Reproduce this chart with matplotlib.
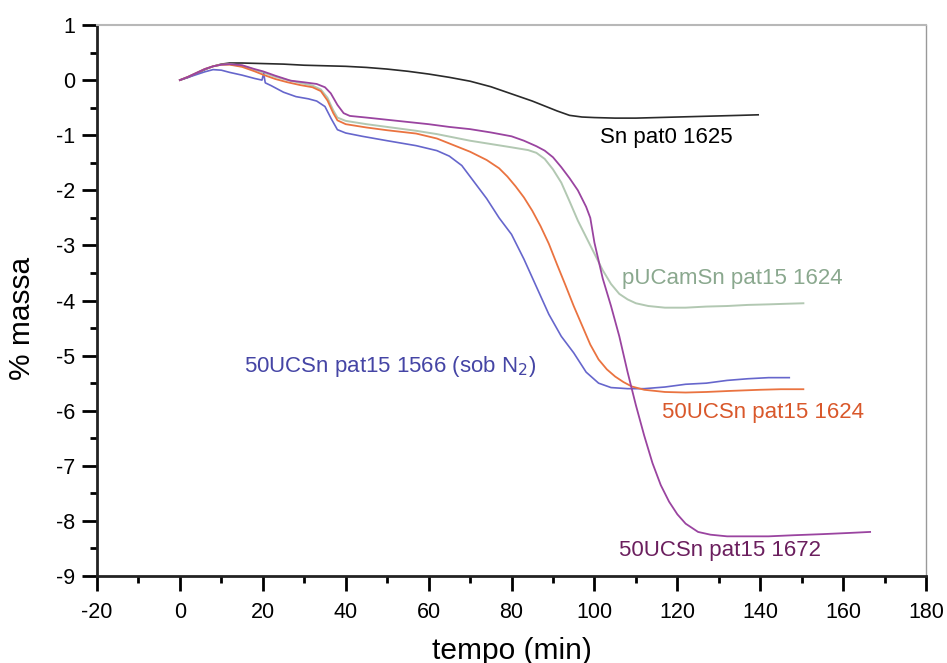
import numpy as np
import matplotlib
matplotlib.use("Agg")
import matplotlib.pyplot as plt
from matplotlib.ticker import MultipleLocator

plt.rcParams['font.family'] = ['Liberation Sans', 'DejaVu Sans']
plt.rcParams['axes.unicode_minus'] = False

# TGA curves: time (min) vs mass change (%)
t_sn = [0, 2, 4, 6, 8, 10, 12, 15, 20, 25, 30, 35, 40, 45, 50, 55, 60, 65, 70, 75,
        80, 85, 88, 91, 94, 97, 100, 105, 110, 115, 120, 125, 130, 135, 139.5]
m_sn = [0, 0.05, 0.12, 0.19, 0.25, 0.29, 0.31, 0.31, 0.30, 0.29, 0.27, 0.26, 0.25, 0.23, 0.2, 0.16,
        0.11, 0.05, -0.02, -0.12, -0.25, -0.38, -0.47, -0.56, -0.64, -0.67, -0.68, -0.69, -0.69,
        -0.68, -0.67, -0.66, -0.65, -0.64, -0.63]

t_n2 = [0, 2, 4, 6, 8, 10, 12, 15, 18, 19.8, 20.2, 20.6, 22, 25, 28, 31, 33, 35, 36.5, 38, 40,
        44, 50, 57, 62, 65, 68, 71, 74, 77, 80, 83, 86, 89, 92, 95, 98, 101, 104, 108, 112, 117,
        122, 127, 132, 137, 142, 147]
m_n2 = [0, 0.05, 0.1, 0.15, 0.19, 0.18, 0.14, 0.09, 0.03, 0.0, 0.12, -0.05, -0.1, -0.22, -0.3,
        -0.34, -0.38, -0.48, -0.7, -0.9, -0.96, -1.02, -1.1, -1.19, -1.28, -1.38, -1.55, -1.85,
        -2.15, -2.5, -2.8, -3.25, -3.75, -4.25, -4.65, -4.95, -5.3, -5.5, -5.58, -5.6, -5.6,
        -5.57, -5.52, -5.5, -5.45, -5.42, -5.4, -5.4]

t_1624 = [0, 2, 4, 6, 8, 10, 12, 15, 18, 20, 23, 26, 29, 32, 34, 35.6, 37, 38, 40, 45, 50, 57,
          62, 65, 70, 74, 77, 79, 81, 83, 85, 87, 89, 91, 93, 95, 97, 99, 101, 103, 105, 107,
          109, 112, 117, 122, 127, 133, 140, 145, 150.4]
m_1624 = [0, 0.06, 0.13, 0.2, 0.25, 0.28, 0.28, 0.24, 0.16, 0.1, 0.02, -0.04, -0.09, -0.13, -0.2,
          -0.37, -0.6, -0.73, -0.8, -0.86, -0.91, -0.97, -1.06, -1.15, -1.3, -1.45, -1.6, -1.75,
          -1.93, -2.13, -2.37, -2.65, -2.97, -3.35, -3.72, -4.1, -4.45, -4.8, -5.07, -5.25, -5.38,
          -5.48, -5.56, -5.62, -5.66, -5.67, -5.66, -5.64, -5.62, -5.61, -5.61]

t_pucam = [0, 2, 4, 6, 8, 10, 12, 15, 18, 20, 23, 26, 29, 32, 34, 35.6, 37, 38, 40, 45, 50, 53,
           57, 62, 66, 70, 75, 80, 84, 86, 88, 90, 92, 94, 96, 98, 100, 102, 104, 106, 108, 110,
           113, 117, 122, 127, 132, 137, 142, 146, 150.4]
m_pucam = [0, 0.06, 0.13, 0.2, 0.25, 0.28, 0.29, 0.26, 0.19, 0.14, 0.06, 0.0, -0.05, -0.1, -0.17,
           -0.32, -0.55, -0.68, -0.74, -0.8, -0.85, -0.88, -0.92, -0.98, -1.04, -1.1, -1.16, -1.22,
           -1.27, -1.32, -1.43, -1.62, -1.86, -2.2, -2.55, -2.85, -3.15, -3.45, -3.7, -3.88, -3.98,
           -4.05, -4.1, -4.13, -4.13, -4.11, -4.1, -4.08, -4.07, -4.06, -4.05]

t_1672 = [0, 2, 4, 6, 8, 10, 12, 15, 18, 20, 23, 26.7, 30, 33, 35, 36.4, 38, 39.5, 41, 45, 50,
          55, 60, 65, 70, 75, 80, 83, 86, 88, 90, 92, 94, 96, 98, 99, 100, 102, 104, 106, 108,
          110, 112, 114, 116, 118, 120, 122, 125, 128, 132, 137, 142, 148, 155, 161, 166.5]
m_1672 = [0, 0.06, 0.13, 0.2, 0.25, 0.28, 0.29, 0.27, 0.2, 0.16, 0.08, -0.01, -0.04, -0.07, -0.13,
          -0.24, -0.45, -0.6, -0.65, -0.68, -0.72, -0.76, -0.8, -0.85, -0.89, -0.95, -1.02, -1.1,
          -1.2, -1.28, -1.4, -1.58, -1.78, -2.0, -2.3, -2.5, -2.95, -3.6, -4.1, -4.65, -5.3,
          -5.9, -6.45, -6.95, -7.35, -7.65, -7.88, -8.05, -8.2, -8.25, -8.28, -8.28, -8.28,
          -8.26, -8.24, -8.22, -8.2]

fig = plt.figure(figsize=(9.47, 6.63), dpi=100)
ax = fig.add_axes([0.1024, 0.1312, 0.8755, 0.8311])

ax.plot(t_sn, m_sn, color='#2a2a2a', lw=1.2)
ax.plot(t_pucam, m_pucam, color='#b2c8b2', lw=1.4)
ax.plot(t_n2, m_n2, color='#6666cc', lw=1.2)
ax.plot(t_1624, m_1624, color='#ea7340', lw=1.3)
ax.plot(t_1672, m_1672, color='#9a44a0', lw=1.3)

# curve labels
fs = 16
ax.text(117.3, -1.04, 'Sn pat0 1625', color='black', fontsize=fs, ha='center', va='center')
ax.text(133.3, -3.6, 'pUCamSn pat15 1624', color='#8aa88e', fontsize=fs, ha='center', va='center')
ax.text(15.4, -5.2, r'50UCSn pat15 1566 (sob N$_2$)', color='#4545a5', fontsize=fs,
        ha='left', va='center')
ax.text(140.7, -6.04, '50UCSn pat15 1624', color='#d9582b', fontsize=fs, ha='center', va='center')
ax.text(130.4, -8.54, '50UCSn pat15 1672', color='#6b1f5e', fontsize=fs, ha='center', va='center')

ax.set_xlim(-20, 180)
ax.set_ylim(-9, 1)
ax.xaxis.set_major_locator(MultipleLocator(20))
ax.xaxis.set_minor_locator(MultipleLocator(10))
ax.yaxis.set_major_locator(MultipleLocator(1))
ax.yaxis.set_minor_locator(MultipleLocator(0.5))
ax.tick_params(which='major', direction='out', length=11, width=2, labelsize=15.5)
ax.tick_params(axis='y', which='major', pad=5)
ax.tick_params(axis='x', which='major', pad=8)
ax.tick_params(which='minor', direction='out', length=5, width=2)

for s in ['left', 'bottom']:
    ax.spines[s].set_linewidth(2)
    ax.spines[s].set_color('#222222')
ax.spines['top'].set_color('#b8b8b8')
ax.spines['top'].set_linewidth(1.5)
ax.spines['right'].set_color('#999999')
ax.spines['right'].set_linewidth(1)

ax.set_xlabel('tempo (min)', fontsize=21.5)
ax.set_ylabel('% massa', fontsize=21.5)
ax.xaxis.set_label_coords(0.5006, -0.11)
ax.yaxis.set_label_coords(-0.074, 0.468)

fig.savefig('out.png', dpi=100)
